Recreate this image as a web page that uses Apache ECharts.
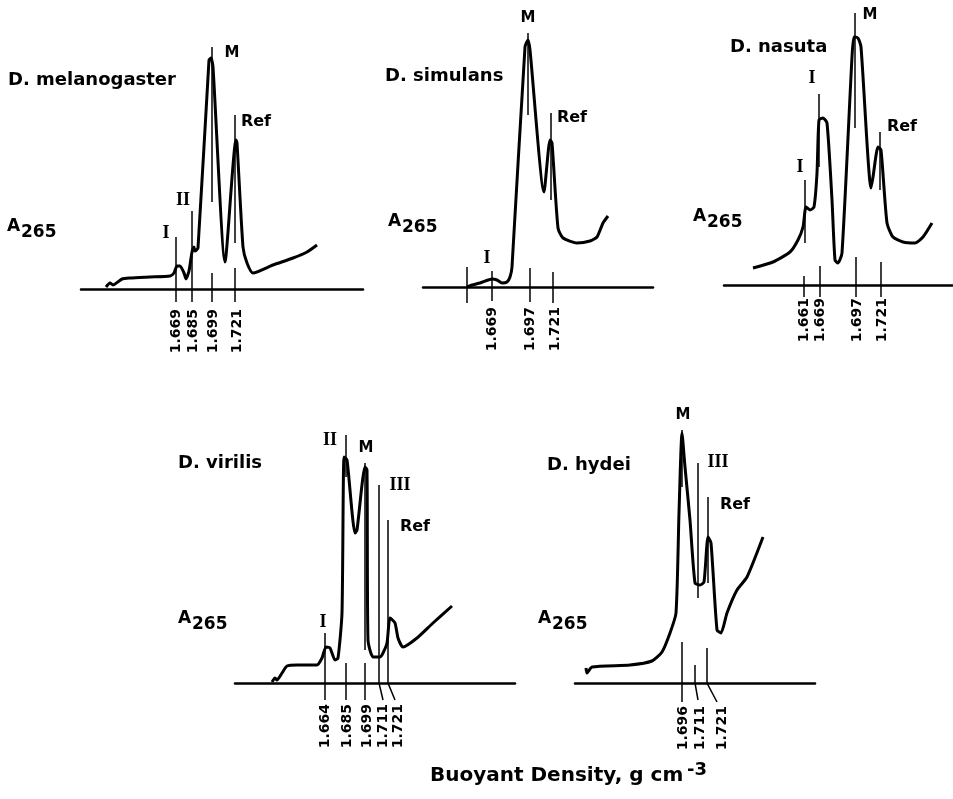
<!DOCTYPE html>
<html>
<head>
<meta charset="utf-8">
<script src="https://cdn.jsdelivr.net/npm/echarts@6/dist/echarts.min.js"></script>
<style>
  html, body { margin: 0; padding: 0; background: #fff; }
  #chart { width: 953px; height: 799px; }
</style>
</head>
<body>
<div id="chart"></div>
<script>
/* Absorbance (A265) traces vs. position along the gradient.
 * x: distance along the trace, y: absorbance height above baseline (same arbitrary units). */

// --- D. melanogaster
const melanoTrace = [[25,2],[29,6],[32,4],[41,10],[49,11],[69,12],[89,13],[93,16],[96,23],[99,23],[103,16],[105,10],
  [108,18],[111,37],[113,42],[114,38],[117,41],[128,229],[130,231],[132,222],[144,27],[155,149],[156,146],
  [162,42],[166,26],[172,16],[192,24],[212,31],[226,37],[236,44]];
const melanoMarks = [[[95,52],[95,-13]], [[111,78],[111,-13]], [[131,242],[131,87]], [[131,16],[131,-13]],
  [[154,174],[154,46]], [[154,21],[154,-13]]];
const melanoTicks = [95, 112, 132, 156];
const melanoTickLabels = ['1.669', '1.685', '1.699', '1.721'];
const melanoPeaks = [['I', 85, 56], ['II', 102, 89], ['M', 151, 236], ['Ref', 175, 167]];

// --- D. simulans
const simTrace = [[44,0],[49,2],[57,4],[69,8],[74,7],[79,4],[84,5],[87,10],[89,20],[102,240],[105,247],[107,237],
  [121,95],[127,147],[129,144],[135,59],[140,49],[154,44],[167,46],[174,50],[180,64],[185,71]];
const simMarks = [[[44,20],[44,-16]], [[69,16],[69,-14]], [[105,254],[105,172]], [[107,19],[107,-15]],
  [[128,174],[128,87]], [[130,15],[130,-16]]];
const simTicks = [69, 107, 132];
const simTickLabels = ['1.669', '1.697', '1.721'];
const simPeaks = [['I', 64, 29], ['M', 105, 269], ['Ref', 149, 169]];

// --- D. nasuta
const nasutaTrace = [[29,17],[49,23],[66,33],[74,45],[79,58],[82,78],[86,75],[90,78],[93,112],[95,165],[99,167],
  [103,162],[108,85],[111,25],[114,22],[118,32],[128,228],[130,248],[134,247],[137,238],[147,97],[149,108],
  [154,138],[157,135],[163,62],[169,48],[179,43],[191,42],[199,48],[208,62]];
const nasutaMarks = [[[81,105],[81,42]], [[80,9],[80,-12]], [[95,191],[95,118]], [[96,19],[96,-12]],
  [[131,272],[131,157]], [[132,28],[132,-12]], [[156,153],[156,95]], [[157,23],[157,-12]]];
const nasutaTicks = [80, 96, 133, 158];
const nasutaTickLabels = ['1.661', '1.669', '1.697', '1.721'];
const nasutaPeaks = [['I', 76, 118], ['I', 88, 207], ['M', 146, 270], ['Ref', 178, 158]];

// --- D. virilis
const virilisTrace = [[37,1],[40,5],[42,3],[47,10],[52,17],[62,18],[82,18],[87,25],[91,36],[95,35],[100,23],
  [103,25],[107,70],[109,226],[112,223],[120,150],[122,153],[130,216],[132,213],[133,43],[138,26],[145,26],
  [148,30],[152,40],[155,65],[160,60],[163,45],[168,36],[182,45],[198,60],[217,77]];
const virilisMarks = [[[90,50],[90,-17]], [[111,248],[111,206]], [[111,20],[111,-17]], [[130,220],[130,33]],
  [[130,20],[130,-17]], [[144,198],[144,0],[148,-17]], [[153,163],[153,0],[160,-17]]];
const virilisTicks = [90, 112, 132, 148, 163];
const virilisTickLabels = ['1.664', '1.685', '1.699', '1.711', '1.721'];
const virilisPeaks = [['I', 88, 61], ['II', 95, 243], ['M', 131, 235], ['III', 165, 198], ['Ref', 180, 156]];

// --- D. hydei
const hydeiTrace = [[11,15],[12,10],[17,16],[55,18],[77,22],[87,31],[95,50],[101,70],[104,170],[107,250],[110,216],
  [115,163],[120,100],[125,98],[129,101],[133,146],[136,140],[142,53],[146,50],[152,70],[162,93],[172,106],[188,146]];
const hydeiMarks = [[[107,253],[107,196]], [[107,41],[107,-19]], [[123,220],[123,85]], [[120,18],[120,0],[123,-17]],
  [[133,186],[133,100]], [[132,35],[132,0],[142,-19]]];
const hydeiTicks = [108, 125, 147];
const hydeiTickLabels = ['1.696', '1.711', '1.721'];
const hydeiPeaks = [['M', 108, 268], ['III', 143, 221], ['Ref', 160, 178]];

// layout of the five panels (pixels); ylab = left / centre of the "265" part
const panels = [
  { name: 'D. melanogaster', trace: melanoTrace, marks: melanoMarks, ticks: melanoTicks, labels: melanoTickLabels,
    peaks: melanoPeaks, left: 81, base: 289, width: 282, margin: 20, title: [8, 80], ylab: [7, 233] },
  { name: 'D. simulans', trace: simTrace, marks: simMarks, ticks: simTicks, labels: simTickLabels,
    peaks: simPeaks, left: 423, base: 287, width: 230, margin: 20, title: [385, 76], ylab: [388, 228] },
  { name: 'D. nasuta', trace: nasutaTrace, marks: nasutaMarks, ticks: nasutaTicks, labels: nasutaTickLabels,
    peaks: nasutaPeaks, left: 724, base: 285, width: 229, margin: 13, title: [730, 47], ylab: [693, 223] },
  { name: 'D. virilis', trace: virilisTrace, marks: virilisMarks, ticks: virilisTicks, labels: virilisTickLabels,
    peaks: virilisPeaks, left: 235, base: 683, width: 280, margin: 21, title: [178, 463], ylab: [178, 625] },
  { name: 'D. hydei', trace: hydeiTrace, marks: hydeiMarks, ticks: hydeiTicks, labels: hydeiTickLabels,
    peaks: hydeiPeaks, left: 575, base: 683, width: 240, margin: 23, title: [547, 465], ylab: [538, 625] },
];

const Y_MAX = 285;
const SANS = 'DejaVu Sans';
const ROMAN = { I: 1, II: 1, III: 1 };

const chart = echarts.init(document.getElementById('chart'));

const grid = panels.map((p) => ({
  left: p.left, top: p.base - Y_MAX, width: p.width, height: Y_MAX,
}));

const xAxis = panels.map((p, i) => ({
  type: 'value', gridIndex: i, min: 0, max: p.width,
  axisLine: { lineStyle: { color: '#000', width: 2.5 } },
  axisTick: { show: false },
  splitLine: { show: false },
  axisLabel: {
    customValues: p.ticks, rotate: 90, margin: p.margin,
    color: '#000', fontFamily: SANS, fontWeight: 'bold', fontSize: 14,
    formatter: (v) => p.labels[p.ticks.indexOf(v)] || '',
  },
}));

const yAxis = panels.map((p, i) => ({
  type: 'value', gridIndex: i, min: 0, max: Y_MAX, show: false,
}));

const series = [];
panels.forEach((p, i) => {
  series.push({
    type: 'line', xAxisIndex: i, yAxisIndex: i, data: p.trace,
    symbol: 'none', smooth: 0.2, silent: true,
    lineStyle: { color: '#000', width: 3, join: 'round' },
  });
  // marker lines (some run below the baseline, so no clipping)
  series.push({
    type: 'lines', coordinateSystem: 'cartesian2d', xAxisIndex: i, yAxisIndex: i,
    polyline: true, silent: true, clip: false,
    lineStyle: { color: '#000', width: 1.5, opacity: 1 },
    data: p.marks.map((m) => ({ coords: m })),
  });
  series.push({
    type: 'scatter', xAxisIndex: i, yAxisIndex: i, symbolSize: 0, silent: true,
    itemStyle: { color: '#000', opacity: 1 },
    data: p.peaks.map((k) => ({
      name: k[0], value: [k[1], k[2]],
      label: ROMAN[k[0]]
        ? { fontFamily: 'Liberation Serif', fontSize: 18 }
        : { fontFamily: SANS, fontSize: k[0] === 'M' ? 15 : 16 },
    })),
    label: {
      show: true, position: 'inside', formatter: '{b}', color: '#000', opacity: 1,
      fontWeight: 'bold', textBorderWidth: 0,
    },
  });
});

const text = (x, y, str, size) => ({
  type: 'text', x, y, silent: true,
  style: { text: str, fill: '#000', font: 'bold ' + size + 'px "DejaVu Sans"', textVerticalAlign: 'middle' },
});

const graphic = [];
panels.forEach((p) => {
  graphic.push(text(p.title[0], p.title[1], p.name, 18));
  graphic.push(text(p.ylab[0], p.ylab[1] - 6, 'A', 17));
  graphic.push(text(p.ylab[0] + 14, p.ylab[1], '265', 17));
});
graphic.push(text(430, 776, 'Buoyant Density, g cm', 20));
graphic.push(text(687, 770, '-3', 18));

chart.setOption({
  animation: false,
  grid, xAxis, yAxis, series, graphic,
});
</script>
</body>
</html>
